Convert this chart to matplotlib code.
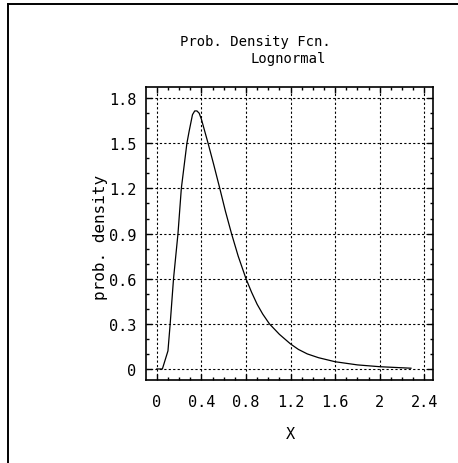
import matplotlib
matplotlib.use("Agg")
import matplotlib.pyplot as plt
from matplotlib.lines import Line2D
from matplotlib.ticker import MultipleLocator

# values
x_vals = [0.0, 0.05, 0.10, 0.12, 0.15, 0.19, 0.22, 0.27, 0.29, 0.32, 0.34, 0.36, 0.38,
          0.40, 0.46, 0.51, 0.565, 0.615, 0.67, 0.73, 0.80, 0.85, 0.90, 0.95, 1.01,
          1.10, 1.20, 1.27, 1.35, 1.45, 1.60, 1.80, 2.00, 2.28]
density = [0.0, 0.0, 0.12, 0.30, 0.60, 0.90, 1.20, 1.50, 1.58, 1.69, 1.715, 1.715, 1.70,
           1.66, 1.50, 1.36, 1.20, 1.05, 0.90, 0.75, 0.60, 0.51, 0.43, 0.365, 0.30,
           0.23, 0.166, 0.13, 0.10, 0.075, 0.048, 0.027, 0.015, 0.005]

x_ticks = [0, 0.4, 0.8, 1.2, 1.6, 2.0, 2.4]
x_tick_labels = ["0", "0.4", "0.8", "1.2", "1.6", "2", "2.4"]
y_ticks = [0, 0.3, 0.6, 0.9, 1.2, 1.5, 1.8]
y_tick_labels = ["0", "0.3", "0.6", "0.9", "1.2", "1.5", "1.8"]

mono = "DejaVu Sans Mono"

fig = plt.figure(figsize=(4.58, 4.64), dpi=100)
ax = fig.add_axes([0.319, 0.179, 0.627, 0.631])

ax.plot(x_vals, density, color="black", linewidth=0.9)

ax.set_xlim(-0.096, 2.48)
ax.set_ylim(-0.073, 1.873)
ax.set_xticks(x_ticks)
ax.set_xticklabels(x_tick_labels, fontfamily=mono, fontsize=11)
ax.set_yticks(y_ticks)
ax.set_yticklabels(y_tick_labels, fontfamily=mono, fontsize=11)
ax.xaxis.set_minor_locator(MultipleLocator(0.1))
ax.yaxis.set_minor_locator(MultipleLocator(0.1))
ax.tick_params(which="both", direction="in", top=True, right=True, color="black")
ax.tick_params(which="major", length=4, width=1.0)
ax.tick_params(axis="x", which="major", pad=10)
ax.tick_params(axis="y", which="major", pad=7)
ax.tick_params(which="minor", length=2.5, width=1.0)
ax.grid(True, which="major", color="black", linestyle=(0, (2, 2)), linewidth=0.8)
for s in ax.spines.values():
    s.set_linewidth(1.2)

fig.text(255 / 458, 1 - 42 / 464, "Prob. Density Fcn.", ha="center", va="center",
         fontfamily=mono, fontsize=10)
fig.text(288 / 458, 1 - 59 / 464, "Lognormal", ha="center", va="center",
         fontfamily=mono, fontsize=10)
fig.text(290 / 458, 1 - 435 / 464, "X", ha="center", va="center",
         fontfamily=mono, fontsize=11)
fig.text(101 / 458, 1 - 237 / 464, "prob. density", ha="center", va="center",
         rotation=90, fontfamily=mono, fontsize=11.5)

# outer frame (left and top edges)
fig.add_artist(Line2D([7.5 / 458, 7.5 / 458], [0, 1 - 5 / 464], transform=fig.transFigure,
                      color="black", linewidth=1.4))
fig.add_artist(Line2D([7.5 / 458, 1], [1 - 5 / 464, 1 - 5 / 464], transform=fig.transFigure,
                      color="black", linewidth=1.4))

fig.savefig("out.png", dpi=100)
